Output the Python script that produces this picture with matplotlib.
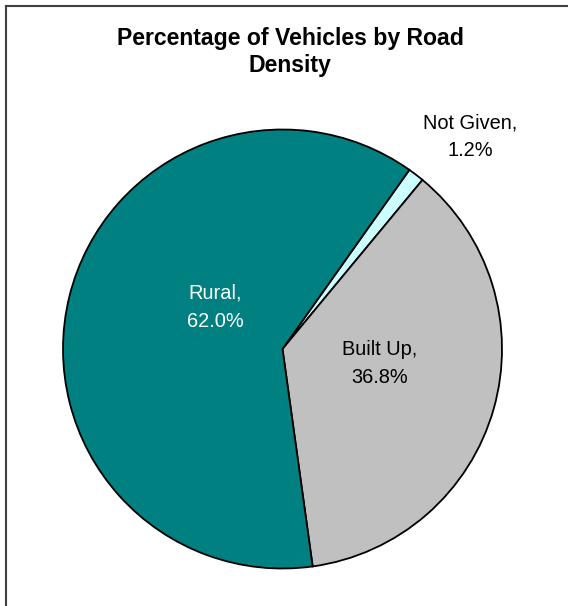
import matplotlib.pyplot as plt
from matplotlib.lines import Line2D

plt.rcParams['font.family'] = ['Liberation Sans', 'DejaVu Sans']

labels = ['Not Given', 'Built Up', 'Rural']
shares = [1.2, 36.8, 62.0]
colors = ['#CCFFFF', '#C0C0C0', '#008080']
label_colors = ['black', 'black', 'white']
# label anchor positions (pie radius = 1)
label_pos = [(0.854, 0.968), (0.444, -0.068), (-0.305, 0.191)]

W, H = 568, 606
fig = plt.figure(figsize=(W / 100, H / 100), dpi=100)

# pie area: centre (282.5, 349) px, radius 219.5 px
cx, cy, r = 282.5, 349, 219.5
ax = fig.add_axes([(cx - r) / W, (H - cy - r) / H, 2 * r / W, 2 * r / H])
ax.pie(shares, colors=colors, startangle=54.7, counterclock=False,
       wedgeprops=dict(edgecolor='black', linewidth=1.3))
ax.set_xlim(-1, 1)
ax.set_ylim(-1, 1)
ax.set_aspect('equal')
ax.axis('off')

for lab, val, (x, y), c in zip(labels, shares, label_pos, label_colors):
    ax.text(x, y, '%s,\n%.1f%%' % (lab, val), ha='center', va='center',
            color=c, fontsize=14.4, linespacing=1.6, clip_on=False)

fig.text(290 / W, 1 - 52 / H, 'Percentage of Vehicles by Road\nDensity',
         ha='center', va='center', fontsize=16.6, fontweight='bold',
         linespacing=1.2)

# chart frame (only top and left edges fall inside the image)
fig.add_artist(Line2D([5.5 / W, 5.5 / W], [0, 1 - 5.5 / H], color='#404040',
                      linewidth=1.5, transform=fig.transFigure))
fig.add_artist(Line2D([5.5 / W, 1], [1 - 5.5 / H, 1 - 5.5 / H], color='#404040',
                      linewidth=1.5, transform=fig.transFigure))

fig.savefig('out.png', dpi=100, facecolor='white')
